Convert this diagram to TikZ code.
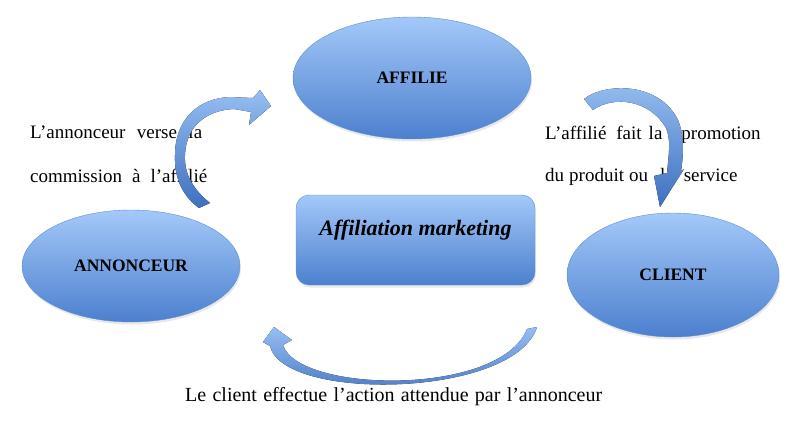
\documentclass[tikz,border=0pt]{standalone}
\usepackage{fontspec}
\setmainfont{Liberation Serif}
\usetikzlibrary{shapes.geometric,shadows}
\definecolor{bleuclair}{RGB}{164,200,249}
\definecolor{bleufonce}{RGB}{76,128,206}
\definecolor{bord}{RGB}{96,141,212}
\definecolor{flecheclair}{RGB}{150,190,242}
\definecolor{flechefonce}{RGB}{62,112,190}
\tikzset{
  bulle/.style={draw=bord, ellipse, inner sep=0pt, top color=bleuclair,
    bottom color=bleufonce, font=\fontsize{17.5}{20}\selectfont\bfseries,
    drop shadow={opacity=0.18, shadow xshift=1pt, shadow yshift=-2.5pt}},
  cadre/.style={draw=bord, rectangle, rounded corners=13pt, top color=bleuclair,
    bottom color=bleufonce,
    drop shadow={opacity=0.18, shadow xshift=1pt, shadow yshift=-2.5pt}},
  texte/.style={anchor=base west, inner sep=0pt, font=\fontsize{19}{23}\selectfont},
  fleche/.style={top color=flecheclair, bottom color=flechefonce, draw=none},
}

\begin{document}
\begin{tikzpicture}[x=1pt,y=-1pt]
  \useasboundingbox (0,0) rectangle (800,428);
  \node[bulle, minimum width=238pt, minimum height=122pt] (affilie)   at (412, 78){AFFILIE};
  \node[bulle, minimum width=218pt, minimum height=112pt] (annonceur) at (131,266){ANNONCEUR};
  \node[bulle, minimum width=212pt, minimum height=124pt] (client)    at (673,275){CLIENT};
  \node[cadre, minimum width=239pt, minimum height=90pt]  (marketing) at (415.5,240){};
  \node[font=\fontsize{22}{26}\selectfont\bfseries\itshape] (titre) at (415.5,230){Affiliation marketing};
  \node[texte] (verse)      at ( 30,138){\makebox[172pt][s]{L’annonceur verse la}};
  \node[texte] (commission) at ( 30,182){\makebox[177pt][s]{commission à l’affilié}};
  \node[texte] (promotion)  at (545,139){L’affilié\hspace{10pt}fait\hspace{7pt}la\hspace{19pt}promotion};
  \node[texte] (produit)    at (545,181){du\hspace{5pt}produit\hspace{5pt}ou\hspace{12pt}la\hspace{10pt}service};
  \node[texte, font=\fontsize{20}{24}\selectfont] (action) at (185,401){\makebox[417pt][s]{Le client effectue l’action attendue par l’annonceur}};
  \fill[fleche] (199,208) .. controls (184,197) and (174,180) .. (175,155)
    .. controls (175,118) and (200,98) .. (230,97) -- (253,98) -- (260,90)
    -- (271,106) -- (249,125) -- (251,112) -- (234,109)
    .. controls (208,110) and (186,125) .. (185,155)
    .. controls (184,175) and (194,190) .. (210,203) -- cycle;
  \fill[fleche] (584,99) .. controls (602,84) and (656,80) .. (677,118)
    .. controls (684,132) and (684,152) .. (681,171) -- (684,169) -- (660,207)
    -- (654,176) -- (667,173) .. controls (669,152) and (671,140) .. (666,128)
    .. controls (650,100) and (614,95) .. (593,110) -- cycle;
  \fill[fleche] (527,329) -- (537,327) .. controls (515,398) and (283,402) .. (270,346)
    -- (263,342) -- (274,327) -- (292,340) -- (283,345)
    .. controls (298,393) and (500,397) .. (527,329) -- cycle;
\end{tikzpicture}
\end{document}
